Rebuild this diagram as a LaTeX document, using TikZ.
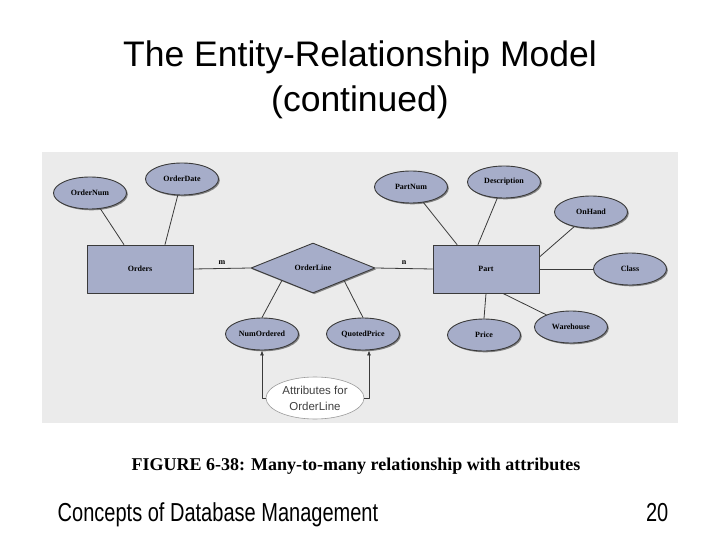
\documentclass[tikz,border=0pt]{standalone}
\usepackage{fontspec}
\setmainfont{Liberation Serif}
\setsansfont{Liberation Sans}
\usetikzlibrary{shapes.geometric,arrows.meta,shadows}
\definecolor{erfill}{HTML}{A6ADC9}
\definecolor{erline}{HTML}{3A3A3A}
\definecolor{figbg}{HTML}{EBEBEB}
\definecolor{notegray}{HTML}{9A9A9A}
\tikzset{
  every picture/.style={line join=round, line cap=round},
  ershadow/.style={drop shadow={shadow xshift=1.3pt, shadow yshift=-1.3pt, fill=black, opacity=0.45}},
  % boxes, ovals and the diamond of the ER figure
  entity/.style={draw=erline, fill=erfill, line width=0.9pt, ershadow,
    minimum width=106pt, minimum height=48pt, inner sep=0pt,
    font=\fontsize{8}{9}\selectfont\bfseries},
  attrib/.style={entity, ellipse, minimum width=73pt, minimum height=32pt},
  relship/.style={entity, diamond, minimum width=124pt, minimum height=50pt},
  note/.style={ellipse, draw=notegray, fill=white, line width=0.6pt, inner sep=0pt,
    minimum width=98pt, minimum height=42pt, align=center, text=black!75,
    font=\sffamily\fontsize{11.5}{16}\selectfont},
  link/.style={draw=erline, line width=0.8pt},
  card/.style={font=\fontsize{8}{9}\selectfont\bfseries, above, inner sep=4pt},
  pointer/.style={draw=erline, line width=0.8pt, -{Latex[length=5pt,width=4pt]}},
}
\begin{document}
\begin{tikzpicture}[x=1pt, y=-1pt]
\useasboundingbox (0,0) rectangle (720,540);
\fill[white] (0,0) rectangle (720,540);

% slide title
\node[anchor=base, font=\sffamily\fontsize{35.5}{40}\selectfont] (title1) at (360,67) {The Entity-Relationship Model};
\node[anchor=base, font=\sffamily\fontsize{35.5}{40}\selectfont] (title2) at (360,112) {(continued)};

% figure background
\fill[figbg] (42,152) rectangle (678,423);

% entities and relationship
\node[entity] (orders) at (140,269) {Orders};
\node[relship] (orderline) at (313,268) {OrderLine};
\node[entity] (part) at (486,269) {Part};

% attributes
\node[attrib] (ordernum) at (90,193) {OrderNum};
\node[attrib] (orderdate) at (182,179) {OrderDate};
\node[attrib] (partnum) at (411,187) {PartNum};
\node[attrib] (descr) at (504,182) {Description};
\node[attrib] (onhand) at (591,212) {OnHand};
\node[attrib] (class) at (630,269) {Class};
\node[attrib] (numordered) at (262,334) {NumOrdered};
\node[attrib] (quotedprice) at (363,334) {QuotedPrice};
\node[attrib] (price) at (484,335) {Price};
\node[attrib] (warehouse) at (571,327) {Warehouse};

\node[note] (attrnote) at (315,398) {Attributes for\\OrderLine};

% connectors
\draw[link] (ordernum) -- (orders);
\draw[link] (orderdate) -- ([xshift=25pt]orders.north);
\draw[link] (orders.east) -- node[card] {m} (orderline.west);
\draw[link] (orderline.east) -- node[card] {n} (part.west);
\draw[link] (partnum) -- ([xshift=-29pt]part.north);
\draw[link] (descr) -- ([xshift=-8pt]part.north);
\draw[link] (onhand) -- ([yshift=12pt]part.east);
\draw[link] (part.east) -- (class.west);
\draw[link] (part.south) -- (price.north);
\draw[link] ([xshift=17pt]part.south) -- (warehouse);
\draw[link] (orderline.south west) -- (numordered.north);
\draw[link] (orderline.south east) -- (quotedprice.north);
\draw[pointer] (attrnote.west) -| (numordered.south);
\draw[pointer] (attrnote.east) -| ([xshift=6pt]quotedprice.south);

% caption and footer
\node[anchor=base, font=\bfseries\fontsize{18}{20}\selectfont] (caption) at (356,470) {FIGURE 6-38: Many-to-many relationship with attributes};
\node[anchor=base west, xscale=0.77, font=\sffamily\fontsize{26}{30}\selectfont] (footer) at (55,521) {Concepts of Database Management};
\node[anchor=base east, xscale=0.77, font=\sffamily\fontsize{26}{30}\selectfont] (pagenum) at (671,521) {20};
\end{tikzpicture}
\end{document}
